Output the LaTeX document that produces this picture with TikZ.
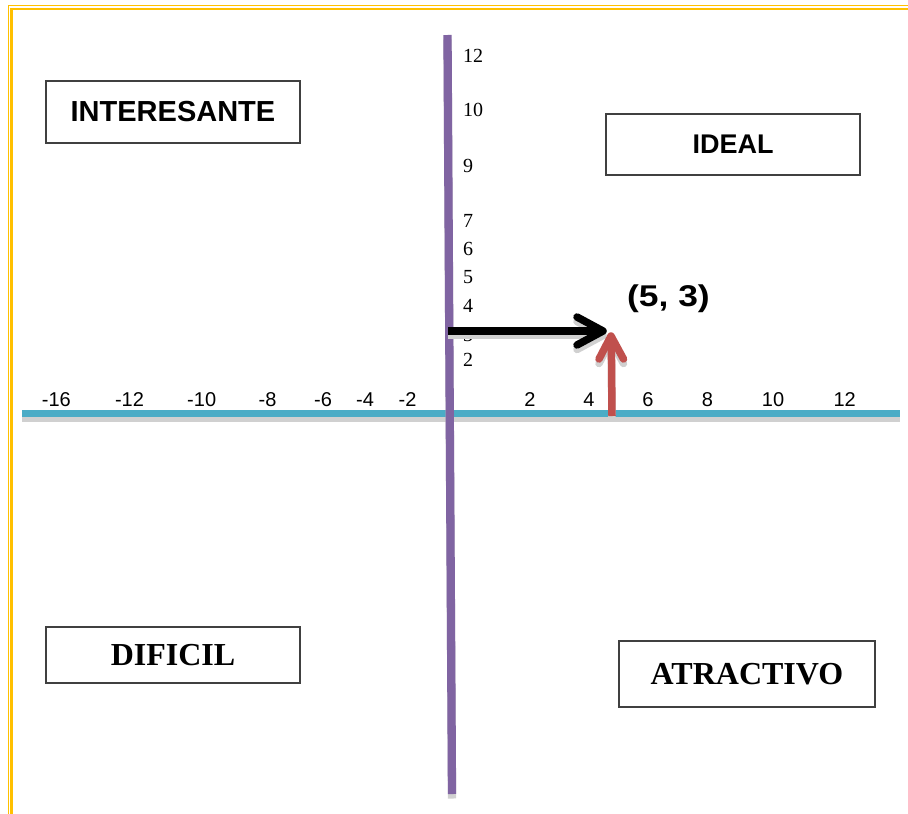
\documentclass[tikz,border=0pt]{standalone}
\usepackage{fontspec}
\setmainfont{Liberation Serif}
\setsansfont{Liberation Sans}
\definecolor{gold}{HTML}{FFC000}
\definecolor{axisteal}{HTML}{4BACC6}
\definecolor{axispurple}{HTML}{8064A2}
\definecolor{arrowred}{HTML}{C0504D}
\definecolor{shadowgray}{HTML}{D0D0D0}
\definecolor{boxgray}{HTML}{404040}
\begin{document}
\begin{tikzpicture}[x=1pt,y=-1pt,
  shade/.style={draw=shadowgray, transform canvas={yshift=-4.5pt}},
  box/.style={draw=boxgray, line width=1.2pt, minimum width=254pt, inner sep=0pt},
  sansbold/.style={font=\sffamily\bfseries\fontsize{#1}{#1}\selectfont},
  serifbold/.style={font=\rmfamily\bfseries\fontsize{#1}{#1}\selectfont},
  ylab/.style={font=\rmfamily\fontsize{20}{20}\selectfont, inner sep=0pt, anchor=west},
  xlab/.style={font=\sffamily\fontsize{20}{20}\selectfont, inner sep=0pt},
  vec/.style={line width=7.5pt, line cap=round, line join=round}
]
\useasboundingbox (0,0) rectangle (908,814);
% page border
\draw[gold, line width=1pt] (8,814) -- (8,5.3) -- (908,5.3);
\draw[gold, line width=2.5pt] (11.3,814) -- (11.3,9) -- (908,9);

% boxes
\node[box, minimum height=62pt, sansbold=29] (interesante) at (173,112) {INTERESANTE};
\node[box, minimum height=61pt, sansbold=27] (ideal) at (733,144.5) {IDEAL};
\node[box, minimum height=56pt, serifbold=32] (dificil) at (173,655) {DIFICIL};
\node[box, minimum width=256pt, minimum height=66pt, serifbold=32] (atractivo) at (747,674) {ATRACTIVO};

% axes
\coordinate (hL) at (22,413.5);
\coordinate (hR) at (900,413.5);
\coordinate (vT) at (447.5,35);
\coordinate (vB) at (452,794);
\draw[shade, line width=7pt] (hL) -- (hR);
\draw[axisteal, line width=7pt] (hL) -- (hR);
\draw[shade, line width=8.3pt] (vT) -- (vB);
\draw[axispurple, line width=8.3pt] (vT) -- (vB);

% y labels
\foreach \v/\yy in {12/56,10/110,9/166,7/221,6/249,5/277,4/306,3/335,2/360}
  \node[ylab] (ylab\v) at (463,\yy) {\v};
% x labels
\foreach \v/\xx in {-16/56.3,-12/129.5,-10/201.7,-8/267.5,-6/323,-4/365,-2/407.5,2/530,4/589,6/648,8/707.5,10/773,12/844.7}
  \node[xlab] (xlab\v) at (\xx,400) {\v};

% black arrow (x = 5)
\coordinate (bS) at (448,331);
\coordinate (bE) at (601,331);
\coordinate (bTip) at (603,331);
\coordinate (bU) at (577,317);
\coordinate (bD) at (577,345);
\draw[shade, line width=7.5pt] (bS) -- (bE);
\draw[shade, vec] (bU) -- (bTip) -- (bD);
\draw[black, line width=7.5pt] (bS) -- (bE);
\draw[vec, black] (bU) -- (bTip) -- (bD);

% red arrow (y = 3)
\coordinate (rS) at (612,416);
\coordinate (rE) at (611.3,338);
\coordinate (rTip) at (611,336);
\coordinate (rL) at (599,359);
\coordinate (rR) at (623.5,359);
\draw[shade, line width=7.5pt] (rS) -- (rE);
\draw[shade, vec] (rL) -- (rTip) -- (rR);
\draw[arrowred, line width=7.5pt] (rS) -- (rE);
\draw[vec, arrowred] (rL) -- (rTip) -- (rR);

\node[sansbold=30, inner sep=0pt] (point) at (668.5,299) {\scalebox{1.18}[1]{(5, 3)}};
\end{tikzpicture}
\end{document}
